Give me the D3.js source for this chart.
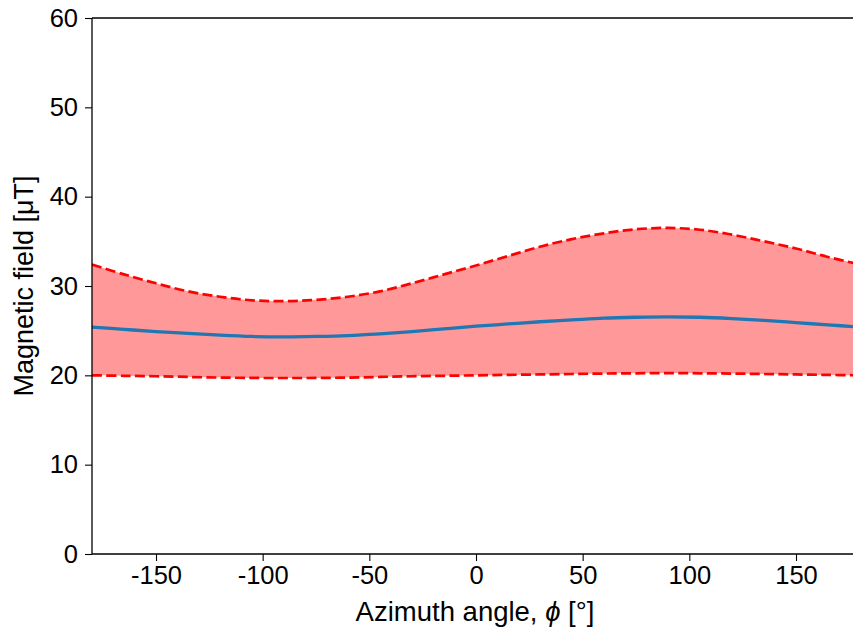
<!DOCTYPE html>
<html>
<head>
<meta charset="utf-8">
<script src="https://cdn.jsdelivr.net/npm/d3@7"></script>
<style>
  html, body { margin: 0; padding: 0; background: #fff; }
  svg { display: block; }
  text { font-family: "Liberation Sans", Arial, sans-serif; fill: #000; }
</style>
</head>
<body>
<div id="chart"></div>
<script>
// ---- data ----
const angles = [-180, -165, -150, -135, -120, -105, -90, -75, -60, -45, -30, -15, 0,
                15, 30, 45, 60, 75, 90, 105, 120, 135, 150, 165, 180];
const meanField = [25.4, 25.15, 24.9, 24.7, 24.5, 24.35, 24.3, 24.35, 24.45, 24.65, 24.9, 25.2, 25.5,
                   25.75, 26.0, 26.2, 26.4, 26.5, 26.55, 26.5, 26.35, 26.15, 25.9, 25.65, 25.4];
const upperField = [32.4, 31.3, 30.3, 29.4, 28.8, 28.4, 28.3, 28.45, 28.8, 29.4, 30.3, 31.3, 32.3,
                    33.35, 34.4, 35.25, 35.9, 36.35, 36.5, 36.3, 35.75, 35.0, 34.2, 33.25, 32.4];
const lowerField = [20.0, 19.95, 19.9, 19.82, 19.75, 19.71, 19.7, 19.71, 19.75, 19.82, 19.9, 19.95, 20.0,
                    20.05, 20.1, 20.15, 20.2, 20.23, 20.25, 20.23, 20.2, 20.15, 20.1, 20.05, 20.0];
const xTicks = [-150, -100, -50, 0, 50, 100, 150];
const xTickLabels = ["-150", "-100", "-50", "0", "50", "100", "150"];
const yTicks = [0, 10, 20, 30, 40, 50, 60];
const yTickLabels = ["0", "10", "20", "30", "40", "50", "60"];

const W = 853, H = 632;
const margin = { left: 92, top: 18, right: -7, bottom: 78 };
const x0 = margin.left, x1 = W - margin.right, y0 = margin.top, y1 = H - margin.bottom;

const svg = d3.select("#chart").append("svg").attr("width", W).attr("height", H);

const x = d3.scaleLinear().domain([-180, 180]).range([x0, x1]);
const y = d3.scaleLinear().domain([0, 60]).range([y1, y0]);

const rows = angles.map((a, i) => ({ a, m: meanField[i], u: upperField[i], l: lowerField[i] }));

svg.append("clipPath").attr("id", "clip").append("rect")
  .attr("x", x0).attr("y", y0).attr("width", x1 - x0).attr("height", y1 - y0);

const g = svg.append("g").attr("clip-path", "url(#clip)");
const curve = d3.curveCatmullRom.alpha(0.5);

g.append("path").datum(rows)
  .attr("fill", "#ff9999").attr("stroke", "none")
  .attr("d", d3.area().x(d => x(d.a)).y0(d => y(d.l)).y1(d => y(d.u)).curve(curve));

const lineU = d3.line().x(d => x(d.a)).y(d => y(d.u)).curve(curve);
const lineL = d3.line().x(d => x(d.a)).y(d => y(d.l)).curve(curve);
const lineM = d3.line().x(d => x(d.a)).y(d => y(d.m)).curve(curve);

[lineU, lineL].forEach(fn => {
  g.append("path").datum(rows).attr("fill", "none")
    .attr("stroke", "#ff0000").attr("stroke-width", 2.7)
    .attr("stroke-dasharray", "10,4.3")
    .attr("d", fn);
});
g.append("path").datum(rows).attr("fill", "none")
  .attr("stroke", "#1f77b4").attr("stroke-width", 3.3)
  .attr("d", lineM);

// axes
const xAxis = d3.axisBottom(x).tickValues(xTicks).tickFormat((d, i) => xTickLabels[i])
  .tickSize(7).tickPadding(5);
const yAxis = d3.axisLeft(y).tickValues(yTicks).tickFormat((d, i) => yTickLabels[i])
  .tickSize(7).tickPadding(7);

const gx = svg.append("g").attr("transform", `translate(0,${y1})`).call(xAxis);
const gy = svg.append("g").attr("transform", `translate(${x0},0)`).call(yAxis);
[gx, gy].forEach(a => {
  a.select(".domain").remove();
  a.selectAll(".tick line").attr("stroke", "#000").attr("stroke-width", 1.1);
  a.selectAll(".tick text").style("font-size", "25.5px").attr("fill", "#000");
});

// spines
const spine = (xa, ya, xb, yb) => svg.append("line")
  .attr("x1", xa).attr("y1", ya).attr("x2", xb).attr("y2", yb)
  .attr("stroke", "#000").attr("stroke-width", 1.3);
spine(x0, y0, x0, y1);
spine(x0, y1, x1, y1);
spine(x0, y0, x1, y0);
spine(x1, y0, x1, y1);

// axis labels
const xl = svg.append("text").attr("x", 475).attr("y", 621)
  .attr("text-anchor", "middle").style("font-size", "27.5px");
xl.append("tspan").text("Azimuth angle, ");
xl.append("tspan").style("font-style", "italic").text("ϕ");
xl.append("tspan").text(" [°]");

svg.append("text")
  .attr("transform", `translate(33,${(y0 + y1) / 2}) rotate(-90)`)
  .attr("text-anchor", "middle").style("font-size", "27px")
  .text("Magnetic field [μT]");
</script>
</body>
</html>
